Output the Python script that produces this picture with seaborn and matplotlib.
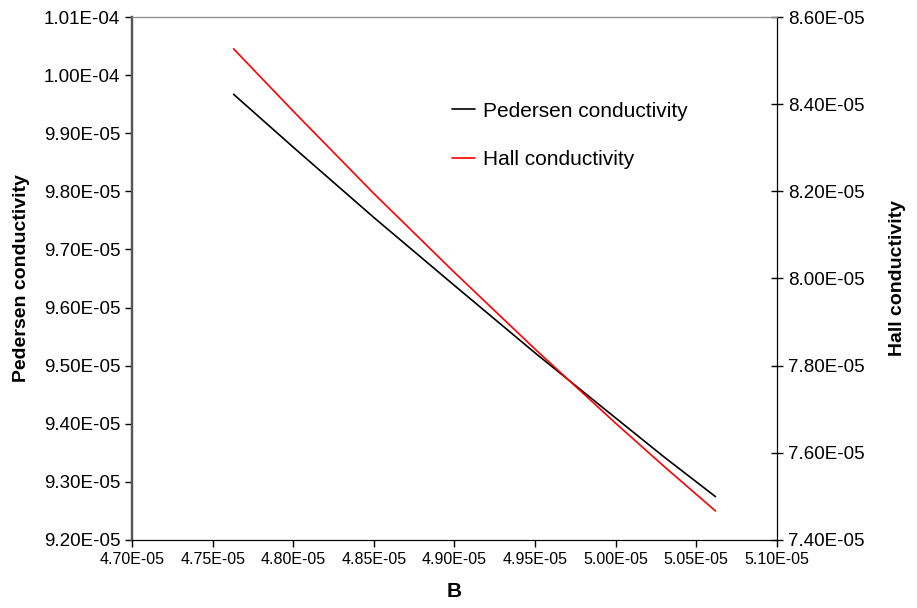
import pandas as pd
import seaborn as sns
import matplotlib.pyplot as plt
from matplotlib.ticker import FormatStrFormatter, MultipleLocator

# values (lines bow slightly, they cross near B = 4.97E-05)
b_field = [4.763e-05, 4.80e-05, 4.85e-05, 4.90e-05, 4.95e-05, 5.00e-05, 5.03e-05, 5.062e-05]
pedersen = [9.967e-05, 9.876e-05, 9.755e-05, 9.638e-05, 9.522e-05, 9.410e-05, 9.343e-05, 9.2745e-05]
hall = [8.527e-05, 8.384e-05, 8.195e-05, 8.014e-05, 7.838e-05, 7.668e-05, 7.569e-05, 7.4665e-05]

df = pd.DataFrame({'B': b_field, 'pedersen': pedersen, 'hall': hall})

sns.set_style('white')
plt.rcParams['font.family'] = ['Liberation Sans', 'DejaVu Sans']
plt.rcParams['text.color'] = 'black'
plt.rcParams['axes.labelcolor'] = 'black'

fig = plt.figure(figsize=(9.17, 6.08), dpi=100)
ax1 = fig.add_axes([0.144, 0.112, 0.703, 0.86])
ax2 = ax1.twinx()

sns.lineplot(data=df, x='B', y='pedersen', ax=ax1, color='black', linewidth=1.2,
             label='Pedersen conductivity', legend=False)
sns.lineplot(data=df, x='B', y='hall', ax=ax2, color='red', linewidth=1.2,
             label='Hall conductivity', legend=False)

# axis ranges
ax1.set_xlim(4.70e-05, 5.10e-05)
ax1.set_ylim(9.20e-05, 1.01e-04)
ax2.set_ylim(7.40e-05, 8.60e-05)
ax1.xaxis.set_major_locator(MultipleLocator(0.05e-05))
ax1.yaxis.set_major_locator(MultipleLocator(0.1e-05))
ax2.yaxis.set_major_locator(MultipleLocator(0.2e-05))
for a in (ax1.xaxis, ax1.yaxis, ax2.yaxis):
    a.set_major_formatter(FormatStrFormatter('%.2E'))

ax1.tick_params(axis='y', labelsize=13.5, direction='out', length=5, width=1, left=True, colors='black')
ax1.tick_params(axis='x', labelsize=11.5, direction='out', length=5, width=1, bottom=True, colors='black')
ax2.tick_params(axis='y', labelsize=13.5, direction='inout', length=9, width=1, right=True, colors='black')

# spines
for a in (ax1, ax2):
    a.spines['left'].set_color('#555555')
    a.spines['left'].set_linewidth(1.6)
    a.spines['top'].set_color('#888888')
    a.spines['bottom'].set_color('black')
    a.spines['right'].set_color('black')

ax1.set_xlabel('B', fontsize=15, fontweight='bold', labelpad=11, color='black')
ax1.set_ylabel('Pedersen conductivity', fontsize=14, fontweight='bold', labelpad=10, color='black')
ax2.set_ylabel('Hall conductivity', fontsize=14, fontweight='bold', labelpad=18, color='black')

# legend from both axes
h1, l1 = ax1.get_legend_handles_labels()
h2, l2 = ax2.get_legend_handles_labels()
leg = ax1.legend(h1 + h2, l1 + l2, loc='upper left', bbox_to_anchor=(0.468, 0.874),
                 frameon=False, fontsize=15, handlelength=1.1, handletextpad=0.35,
                 labelspacing=1.4)
for t in leg.get_texts():
    t.set_color('black')

fig.savefig('out.png', dpi=100)
